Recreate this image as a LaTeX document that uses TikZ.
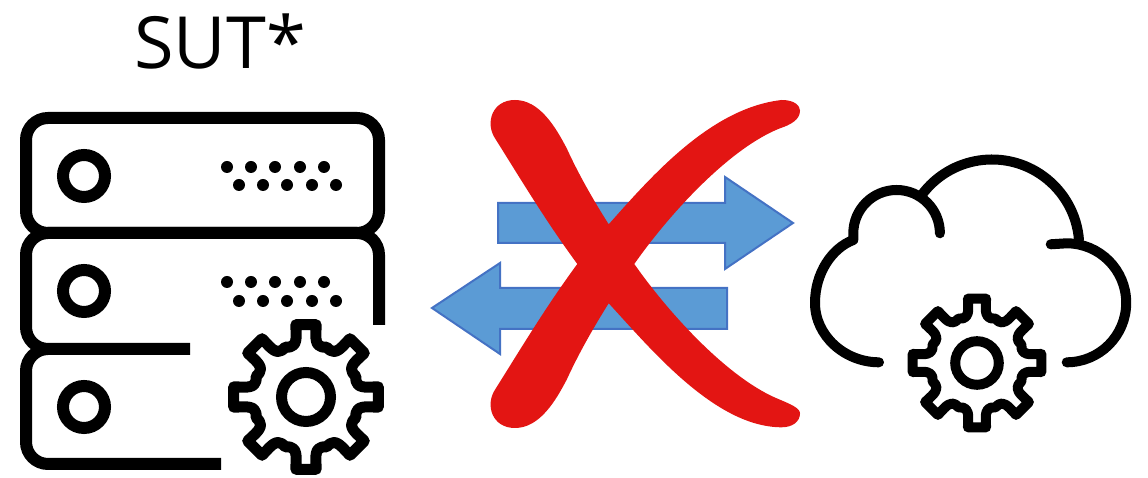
\documentclass[tikz,border=0pt]{standalone}
\usepackage{fontspec}
\setmainfont{Open Sans}
\definecolor{ink}{HTML}{000000}
\definecolor{softblue}{HTML}{5B9BD5}
\definecolor{blue}{HTML}{4472C4}
\definecolor{red}{HTML}{E31513}
\begin{document}
\begin{tikzpicture}[
  x=1pt, y=1pt,
  rack/.style={draw=ink, line width=12pt, line cap=butt},
  icon/.style={draw=ink, line width=10pt, line cap=round, line join=round},
  flow/.style={fill=softblue, draw=blue, line width=2pt, line join=miter},
  gear/.pic={
    \draw[draw=ink, line join=round] (82:73)
      \foreach \a in {90,135,...,405} {
        -- (\a+8:73) -- (\a+9:63) .. controls (\a+10.5:53) and (\a+15:51) .. (\a+22.5:54)
        .. controls (\a+30:51) and (\a+34.5:53) .. (\a+36:63) -- (\a+37:73)
      } -- cycle;
    \draw[draw=ink] (0,0) circle (24.5);
  }
]
\useasboundingbox (0,0) rectangle (1148,478);
\node[font=\fontsize{72}{72}\selectfont, inner sep=0pt] (title) at (220,436) {SUT*};

\draw[rack, rounded corners=22pt] (26,245) rectangle (379,360);
\draw[rack] (190,129) -- (48,129) arc (270:180:22) -- (26,223) arc (180:90:22) -- (357,245) arc (90:0:22) -- (379,153);
\draw[rack] (221,14) -- (48,14) arc (270:180:22) -- (26,107) arc (180:90:22) -- (48,129);
\foreach \y in {302,187,71} {
  \draw[draw=ink, line width=12pt] (84,\y) circle (21);
}
\foreach \y/\z in {311/293,196/177} {
  \foreach \x in {227,251,275,300,324} {
    \fill[ink] (\x,\y) circle (6);
    \fill[ink] (\x+12,\z) circle (6);
  }
}
\pic[line width=11pt] at (306,81) {gear};

\draw[flow] (498,275) -- (725,275) -- (725,301) -- (793,255) -- (725,209) -- (725,235) -- (498,235) -- cycle;
\draw[flow] (727,190) -- (500,190) -- (500,215) -- (432,170) -- (500,124) -- (500,149) -- (727,149) -- cycle;

\fill[red] (577.3,214) .. controls (545,258) and (520,300) .. (495,339.7)
  .. controls (485,355) and (492,378) .. (515,378)
  .. controls (540,378) and (556,350) .. (566.7,329.7)
  .. controls (578,305) and (592,280) .. (608.7,253.7)
  .. controls (650,300) and (710,370) .. (781.7,378)
  .. controls (795,378) and (800,372) .. (800,367.3)
  .. controls (800,358) and (790,353) .. (780,349.7)
  .. controls (730,330) and (670,265) .. (634.3,214)
  .. controls (670,163) and (730,98) .. (780,78.3)
  .. controls (790,74) and (800,70) .. (800,64.7)
  .. controls (800,56) and (792,50.7) .. (781.7,50.7)
  .. controls (715,50.7) and (650,130) .. (608.7,174.7)
  .. controls (592,148) and (578,123) .. (566.7,98.3)
  .. controls (556,78) and (540,50) .. (515,50)
  .. controls (492,50) and (485,73) .. (495,88.3)
  .. controls (520,128) and (545,170) .. (577.3,214) -- cycle;

\draw[icon] (879,115.7) .. controls (845,115.7) and (815,142) .. (815,175) .. controls (815,205) and (832,230) .. (853.3,238) -- (853.3,244.7) arc (180:0:43.3);
\draw[icon] (921.7,283) arc (143.6:4.4:87.3);
\draw[icon] (1050.7,233.7) -- (1066.7,234.7) arc (90:-90:59.5);
\pic[scale=0.89, line width=10pt] at (977,115) {gear};
\end{tikzpicture}
\end{document}
